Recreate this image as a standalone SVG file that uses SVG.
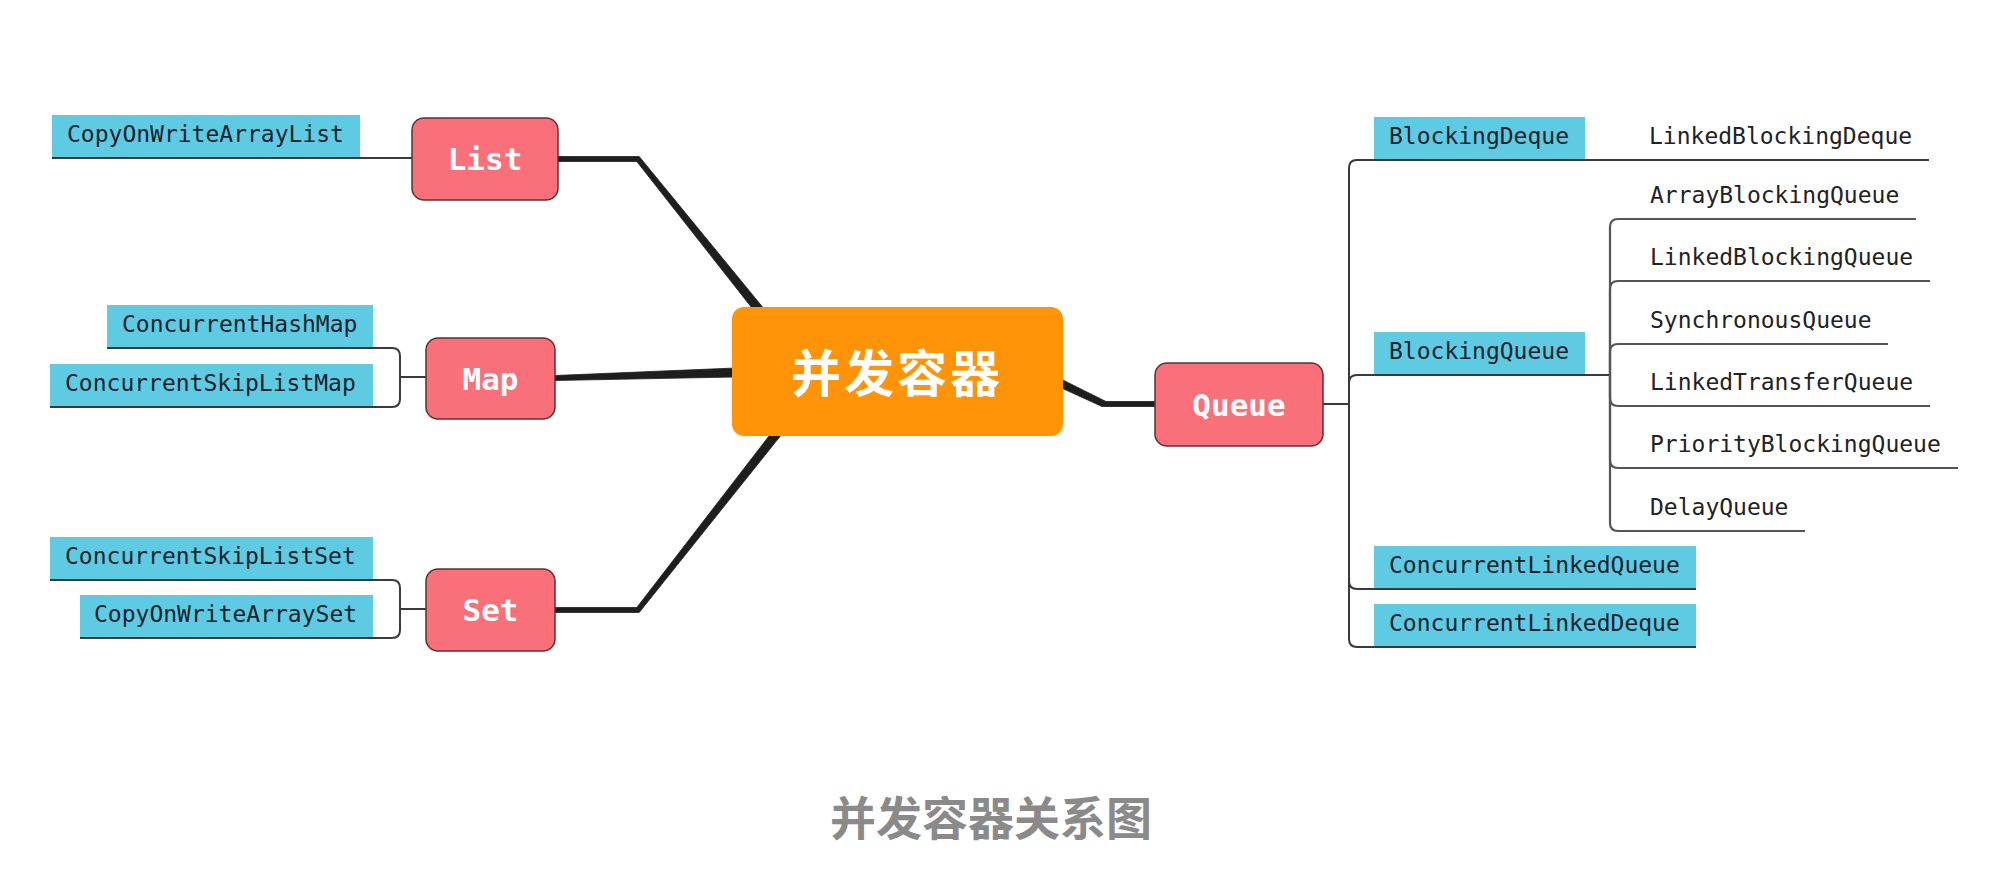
<svg xmlns="http://www.w3.org/2000/svg" width="2012" height="896" viewBox="0 0 2012 896">
<style>
.bg{fill:#ffffff}
.leaf{fill:#5ECBE3}
.node{fill:#F9707A;stroke:#5a3232;stroke-width:1.5}
.center{fill:#FF9408}
.mono{font-family:"DejaVu Sans Mono","Liberation Mono",monospace;font-size:23px;fill:#15222c}
.plain{font-family:"DejaVu Sans Mono","Liberation Mono",monospace;font-size:23px;fill:#222222}
.nlabel{font-family:"DejaVu Sans Mono","Liberation Mono",monospace;font-weight:bold;font-size:31px;fill:#ffffff;text-anchor:middle}
.clabel{font-family:"Noto Sans CJK SC",sans-serif;font-weight:bold;font-size:50px;fill:#ffffff;letter-spacing:3px}
.caption{font-family:"Noto Sans CJK SC",sans-serif;font-weight:bold;font-size:46px;fill:#8a8a8a;text-anchor:middle}
.thin{fill:none;stroke:#3a3a3a;stroke-width:2}
.sub{fill:none;stroke:#555555;stroke-width:2.2}
.thick{fill:#1e1e1e;stroke:#1e1e1e;stroke-width:0.8;stroke-linejoin:round}
</style>
<rect class="bg" x="0" y="0" width="2012" height="896"/>

<!-- leaf boxes (drawn beneath connectors) -->
<g id="leaf-boxes">
  <rect class="leaf" x="52" y="115" width="308" height="43"/>
  <rect class="leaf" x="107" y="305" width="266" height="43"/>
  <rect class="leaf" x="50" y="364" width="323" height="43"/>
  <rect class="leaf" x="50" y="537" width="323" height="43"/>
  <rect class="leaf" x="80" y="595" width="293" height="43"/>
  <rect class="leaf" x="1374" y="117" width="211" height="43"/>
  <rect class="leaf" x="1374" y="332" width="211" height="43"/>
  <rect class="leaf" x="1374" y="546" width="322" height="43"/>
  <rect class="leaf" x="1374" y="604" width="322" height="43"/>
</g>

<g id="connectors">
  <!-- thick main branches -->
  <path class="thick" d="M558 156.5 L639.2 156.5 L763.5 308.2 L756.5 313.8 L636.8 161.5 L558 161.5 Z"/>
  <path class="thick" d="M555 375.5 L735 368 L735 377 L555 380.5 Z"/>
  <path class="thick" d="M555 607.5 L636.8 607.5 L773.5 430.2 L780.5 435.8 L639.2 612.5 L555 612.5 Z"/>
  <path class="thick" d="M1061.7 379.4 L1106 401.5 L1155 401.5 L1155 406.5 L1102 406.5 L1058.3 386.6 Z"/>
  <!-- List -->
  <path class="thin" d="M52 158 H412"/>
  <!-- Map -->
  <path class="thin" d="M426 377 H400 V356 Q400 348 392 348 H107"/>
  <path class="thin" d="M400 377 V399 Q400 407 392 407 H50"/>
  <!-- Set -->
  <path class="thin" d="M426 609 H400 V588 Q400 580 392 580 H50"/>
  <path class="thin" d="M400 609 V630 Q400 638 392 638 H80"/>
  <!-- Queue -->
  <path class="thin" d="M1323 404 H1349 V168 Q1349 160 1357 160 H1929"/>
  <path class="thin" d="M1349 404 V383 Q1349 375 1357 375 H1610"/>
  <path class="thin" d="M1349 404 V581 Q1349 589 1357 589 H1696"/>
  <path class="thin" d="M1349 404 V639 Q1349 647 1357 647 H1696"/>
  <!-- BlockingQueue children -->
  <path class="sub" d="M1610 375 V227 Q1610 219 1618 219 H1916"/>
  <path class="sub" d="M1610 375 V289 Q1610 281 1618 281 H1930"/>
  <path class="sub" d="M1610 375 V352 Q1610 344 1618 344 H1888"/>
  <path class="sub" d="M1610 375 V398 Q1610 406 1618 406 H1930"/>
  <path class="sub" d="M1610 375 V460 Q1610 468 1618 468 H1958"/>
  <path class="sub" d="M1610 375 V523 Q1610 531 1618 531 H1805"/>
</g>

<g id="node-center">
  <rect class="center" x="732" y="307" width="331" height="129" rx="12" ry="12"/>
  <text class="clabel" x="791" y="392">并发容器</text>
</g>
<g id="node-list">
  <rect class="node" x="412" y="118" width="146" height="82" rx="12" ry="12"/>
  <text class="nlabel" x="485" y="170">List</text>
</g>
<g id="node-map">
  <rect class="node" x="426" y="338" width="129" height="81" rx="12" ry="12"/>
  <text class="nlabel" x="490.5" y="390">Map</text>
</g>
<g id="node-set">
  <rect class="node" x="426" y="569" width="129" height="82" rx="12" ry="12"/>
  <text class="nlabel" x="490.5" y="621">Set</text>
</g>
<g id="node-queue">
  <rect class="node" x="1155" y="363" width="168" height="83" rx="12" ry="12"/>
  <text class="nlabel" x="1239" y="416">Queue</text>
</g>

<g id="leaf-cowal"><text class="mono" x="67" y="142">CopyOnWriteArrayList</text></g>
<g id="leaf-chm"><text class="mono" x="122" y="332">ConcurrentHashMap</text></g>
<g id="leaf-cslm"><text class="mono" x="65" y="391">ConcurrentSkipListMap</text></g>
<g id="leaf-csls"><text class="mono" x="65" y="564">ConcurrentSkipListSet</text></g>
<g id="leaf-cowas"><text class="mono" x="94" y="622">CopyOnWriteArraySet</text></g>

<g id="leaf-blockingdeque"><text class="mono" x="1389" y="144">BlockingDeque</text></g>
<g id="leaf-lbd"><text class="plain" x="1649" y="144">LinkedBlockingDeque</text></g>
<g id="leaf-blockingqueue"><text class="mono" x="1389" y="359">BlockingQueue</text></g>
<g id="leaf-abq"><text class="plain" x="1650" y="203">ArrayBlockingQueue</text></g>
<g id="leaf-lbq"><text class="plain" x="1650" y="265">LinkedBlockingQueue</text></g>
<g id="leaf-sq"><text class="plain" x="1650" y="328">SynchronousQueue</text></g>
<g id="leaf-ltq"><text class="plain" x="1650" y="390">LinkedTransferQueue</text></g>
<g id="leaf-pbq"><text class="plain" x="1650" y="452">PriorityBlockingQueue</text></g>
<g id="leaf-dq"><text class="plain" x="1650" y="515">DelayQueue</text></g>
<g id="leaf-clq"><text class="mono" x="1389" y="573">ConcurrentLinkedQueue</text></g>
<g id="leaf-cld"><text class="mono" x="1389" y="631">ConcurrentLinkedDeque</text></g>

<g id="caption"><text class="caption" x="991" y="835">并发容器关系图</text></g>
</svg>
